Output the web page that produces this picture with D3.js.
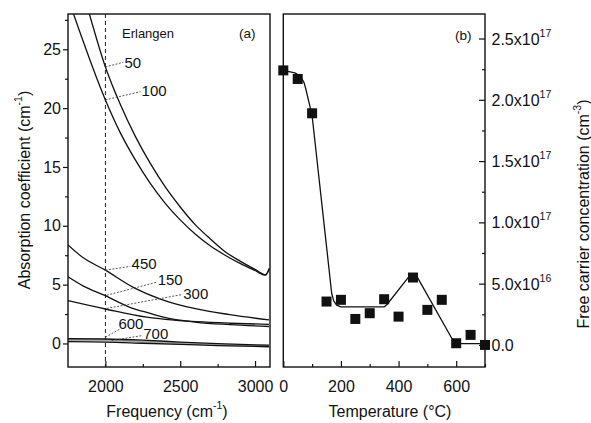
<!DOCTYPE html>
<html>
<head>
<meta charset="utf-8">
<script src="https://cdn.jsdelivr.net/npm/d3@7"></script>
<style>
  html, body { margin: 0; padding: 0; background: #fff; }
  svg { display: block; font-family: "Liberation Sans", Arial, sans-serif; }
</style>
</head>
<body>
<svg id="chart" width="591" height="423"></svg>
<script>
// ---------------- DATA ----------------
// Panel (a): absorption coefficient vs frequency, per annealing temperature
const freq50  = [1893, 2000, 2100, 2200, 2300, 2400, 2500, 2600, 2700, 2800, 2900, 3000, 3070, 3095];
const abs50   = [28.0, 23.5, 20.3, 17.6, 15.3, 13.3, 11.6, 10.1, 8.9, 7.8, 7.0, 6.3, 5.85, 6.3];
const freq100 = [1787, 2000, 2100, 2200, 2300, 2400, 2500, 2600, 2700, 2800, 2900, 3000, 3070, 3095];
const abs100  = [28.0, 20.7, 17.9, 15.6, 13.6, 11.9, 10.5, 9.3, 8.3, 7.5, 6.8, 6.2, 5.8, 6.4];
const freq450 = [1750, 1850, 2000, 2187, 2387, 2609, 2831, 3093];
const abs450  = [8.38, 7.3, 6.23, 4.77, 3.69, 2.93, 2.45, 2.0];
const freq150 = [1750, 1850, 2000, 2164, 2300, 2387, 2609, 2831, 3093];
const abs150  = [5.67, 4.9, 4.06, 3.07, 2.55, 2.23, 1.8, 1.6, 1.44];
const freq300 = [1750, 2000, 2276, 2400, 2609, 2831, 3093];
const abs300  = [3.64, 2.93, 2.23, 2.05, 1.85, 1.72, 1.62];
const freq600 = [1750, 2000, 2250, 2500, 2750, 3093];
const abs600  = [0.40, 0.38, 0.28, 0.12, -0.02, -0.15];
const freq700 = [1750, 2000, 2250, 2500, 2750, 3093];
const abs700  = [0.15, 0.12, 0.02, -0.08, -0.18, -0.28];

const curveNames = ["50", "100", "450", "150", "300", "600", "700"];

// Panel (b): free carrier concentration vs annealing temperature
const tempPts = [0, 50, 100, 150, 200, 250, 300, 350, 400, 450, 500, 550, 600, 650, 700];
const concPts = [2.24e17, 2.17e17, 1.89e17, 0.354e17, 0.368e17, 0.212e17, 0.259e17, 0.373e17,
                 0.231e17, 0.55e17, 0.286e17, 0.368e17, 0.014e17, 0.082e17, 0.0];
const tempFit = [0, 40, 55, 65, 72, 78, 84, 90, 100, 168, 175, 185, 200, 350, 360, 440, 450, 462, 588, 596, 700];
const concFit = [2.24e17, 2.22e17, 2.2e17, 2.17e17, 2.14e17, 2.09e17, 2.03e17, 1.97e17, 1.87e17,
                 0.42e17, 0.36e17, 0.325e17, 0.31e17, 0.31e17, 0.33e17, 0.57e17, 0.58e17, 0.565e17,
                 0.04e17, 0.01e17, 0.01e17];

// Ticks
const freqTicks = [2000, 2500, 3000];
const freqMinor = [2250, 2750];
const absTicks = [0, 5, 10, 15, 20, 25];
const absMinor = [2.5, 7.5, 12.5, 17.5, 22.5, 27.5];
const tempTicks = [0, 200, 400, 600];
const tempMinor = [100, 300, 500, 700];
const concTicks = [0, 0.5e17, 1.0e17, 1.5e17, 2.0e17, 2.5e17];
const concMinor = [0.25e17, 0.75e17, 1.25e17, 1.75e17, 2.25e17];
const concMant = ["0.0", "5.0x10", "1.0x10", "1.5x10", "2.0x10", "2.5x10"];
const concExp  = ["", "16", "17", "17", "17", "17"];

// ---------------- LAYOUT ----------------
const svg = d3.select("#chart");
const pTop = 14, pBottom = 367;
const aL = 68, aR = 270, bL = 283.3, bR = 485;
const FONT = 16;

const xA = d3.scaleLinear().domain([1750, 3100]).range([aL, aR]);
const yA = d3.scaleLinear().domain([-2, 28]).range([pBottom, pTop]);
const xB = d3.scaleLinear().domain([0, 700]).range([bL, bR]);
const yB = d3.scaleLinear().domain([-0.18e17, 2.7e17]).range([pBottom, pTop]);

const defs = svg.append("defs");
defs.append("clipPath").attr("id", "clipA").append("rect")
  .attr("x", aL).attr("y", pTop).attr("width", aR - aL).attr("height", pBottom - pTop);

// ---------- Panel (a) ----------
const gA = svg.append("g");
gA.append("line")
  .attr("x1", xA(2000)).attr("x2", xA(2000)).attr("y1", pTop).attr("y2", pBottom)
  .attr("stroke", "#222").attr("stroke-width", 1).attr("stroke-dasharray", "4,3");

const lineA = d3.line().x(d => xA(d[0])).y(d => yA(d[1])).curve(d3.curveMonotoneX);
const seriesA = [
  [freq50, abs50], [freq100, abs100], [freq450, abs450], [freq150, abs150],
  [freq300, abs300], [freq600, abs600], [freq700, abs700]
];
const gCurves = gA.append("g").attr("clip-path", "url(#clipA)");
gCurves.append("path")
  .datum(freq600.map((f, k) => [f, (abs600[k] + abs700[k]) / 2]))
  .attr("d", lineA).attr("fill", "none").attr("stroke", "#aaa").attr("stroke-width", 2);
seriesA.forEach(([fx, fy], i) => {
  const pts = fx.map((f, k) => [f, fy[k]]);
  gCurves.append("path").datum(pts).attr("d", lineA)
    .attr("fill", "none").attr("stroke", "#111").attr("stroke-width", 1.3);
});

const annos = [
  { t: "50",  tx: 2127, ty: 23.4, from: [2000, 23.5], to: [2120, 23.9] },
  { t: "100", tx: 2242, ty: 21.0, from: [2000, 20.7], to: [2235, 21.4] },
  { t: "450", tx: 2175, ty: 6.3,  from: [2000, 6.23], to: [2165, 6.55] },
  { t: "150", tx: 2349, ty: 5.0,  from: [2009, 4.1],  to: [2342, 5.2] },
  { t: "300", tx: 2520, ty: 3.75, from: [2009, 2.98], to: [2509, 4.15] },
  { t: "600", tx: 2087, ty: 1.25, from: [2000, 0.53], to: [2098, 1.24] },
  { t: "700", tx: 2253, ty: 0.36, from: [2042, 0.25], to: [2250, 0.68] }
];
annos.forEach(a => {
  gA.append("line")
    .attr("x1", xA(a.from[0])).attr("y1", yA(a.from[1]))
    .attr("x2", xA(a.to[0])).attr("y2", yA(a.to[1]))
    .attr("stroke", "#444").attr("stroke-width", 0.9).attr("stroke-dasharray", "2,1.5");
  gA.append("text").attr("x", xA(a.tx)).attr("y", yA(a.ty))
    .attr("font-size", 15).attr("fill", "#111").text(a.t);
});
gA.append("text").attr("x", 122).attr("y", 38).attr("font-size", 13).attr("fill", "#111").text("Erlangen");
gA.append("text").attr("x", 239).attr("y", 38).attr("font-size", 13.5).attr("fill", "#111").text("(a)");

const axBottomA = d3.axisBottom(xA).tickValues(freqTicks).tickSize(-6).tickPadding(14).tickFormat(d3.format("d"));
gA.append("g").attr("transform", `translate(0,${pBottom})`).call(axBottomA);
gA.append("g").attr("transform", `translate(0,${pBottom})`)
  .call(d3.axisBottom(xA).tickValues(freqMinor).tickSize(-3).tickFormat(""));
const axLeftA = d3.axisLeft(yA).tickValues(absTicks).tickSize(5).tickPadding(2);
gA.append("g").attr("transform", `translate(${aL},0)`).call(axLeftA);
gA.append("g").attr("transform", `translate(${aL},0)`)
  .call(d3.axisLeft(yA).tickValues(absMinor).tickSize(3).tickFormat(""));
gA.append("rect").attr("x", aL).attr("y", pTop).attr("width", aR - aL).attr("height", pBottom - pTop)
  .attr("fill", "none").attr("stroke", "#111").attr("stroke-width", 1.4);

// ---------- Panel (b) ----------
const gB = svg.append("g");
const lineB = d3.line().x(d => xB(d[0])).y(d => yB(d[1])).curve(d3.curveLinear);
gB.append("path").datum(tempFit.map((t, k) => [t, concFit[k]])).attr("d", lineB)
  .attr("fill", "none").attr("stroke", "#111").attr("stroke-width", 1.3).attr("stroke-linejoin", "round");
const sq = 10;
gB.selectAll("rect.pt").data(tempPts.map((t, k) => [t, concPts[k]])).join("rect")
  .attr("class", "pt")
  .attr("x", d => xB(d[0]) - sq / 2).attr("y", d => yB(d[1]) - sq / 2)
  .attr("width", sq).attr("height", sq).attr("fill", "#111");

gB.append("text").attr("x", 455).attr("y", 40).attr("font-size", 13.5).attr("fill", "#111").text("(b)");

const axBottomB = d3.axisBottom(xB).tickValues(tempTicks).tickSize(-6).tickPadding(14).tickFormat(d3.format("d"));
gB.append("g").attr("transform", `translate(0,${pBottom})`).call(axBottomB);
gB.append("g").attr("transform", `translate(0,${pBottom})`)
  .call(d3.axisBottom(xB).tickValues(tempMinor).tickSize(-3).tickFormat(""));
const axRightB = d3.axisRight(yB).tickValues(concTicks).tickSize(-6).tickFormat("");
gB.append("g").attr("transform", `translate(${bR},0)`).call(axRightB);
gB.append("g").attr("transform", `translate(${bR},0)`)
  .call(d3.axisRight(yB).tickValues(concMinor).tickSize(-3).tickFormat(""));
concTicks.forEach((v, i) => {
  const t = gB.append("text").attr("x", bR + 6.5).attr("y", yB(v) + 6)
    .attr("font-size", FONT).attr("fill", "#111");
  t.append("tspan").text(concMant[i]);
  if (concExp[i]) t.append("tspan").attr("font-size", 10.5).attr("dy", -8).text(concExp[i]);
});
gB.append("rect").attr("x", bL).attr("y", pTop).attr("width", bR - bL).attr("height", pBottom - pTop)
  .attr("fill", "none").attr("stroke", "#111").attr("stroke-width", 1.4);

svg.selectAll(".domain").remove();
svg.selectAll(".tick line").attr("stroke", "#111").attr("stroke-width", 1.2);
svg.selectAll(".tick text").attr("font-size", FONT).attr("fill", "#111")
  .attr("font-family", "'Liberation Sans', Arial, sans-serif");

function titleWithSup(g, x, y, base, sup, rot) {
  const t = g.append("text").attr("font-size", FONT).attr("fill", "#111").attr("text-anchor", "middle");
  if (rot) t.attr("transform", `translate(${x},${y}) rotate(-90)`);
  else t.attr("x", x).attr("y", y);
  t.append("tspan").text(base);
  t.append("tspan").attr("font-size", 10.5).attr("dy", -8).text(sup);
  t.append("tspan").attr("dy", 8).text(")");
  return t;
}
titleWithSup(svg, 167, 417, "Frequency (cm", "-1", false);
titleWithSup(svg, 30, 190, "Absorption coefficient (cm", "-1", true);
titleWithSup(svg, 589, 214, "Free carrier concentration (cm", "-3", true);
svg.append("text").attr("x", 390).attr("y", 417).attr("font-size", FONT).attr("fill", "#111")
  .attr("text-anchor", "middle").text("Temperature (°C)");
</script>
</body>
</html>
